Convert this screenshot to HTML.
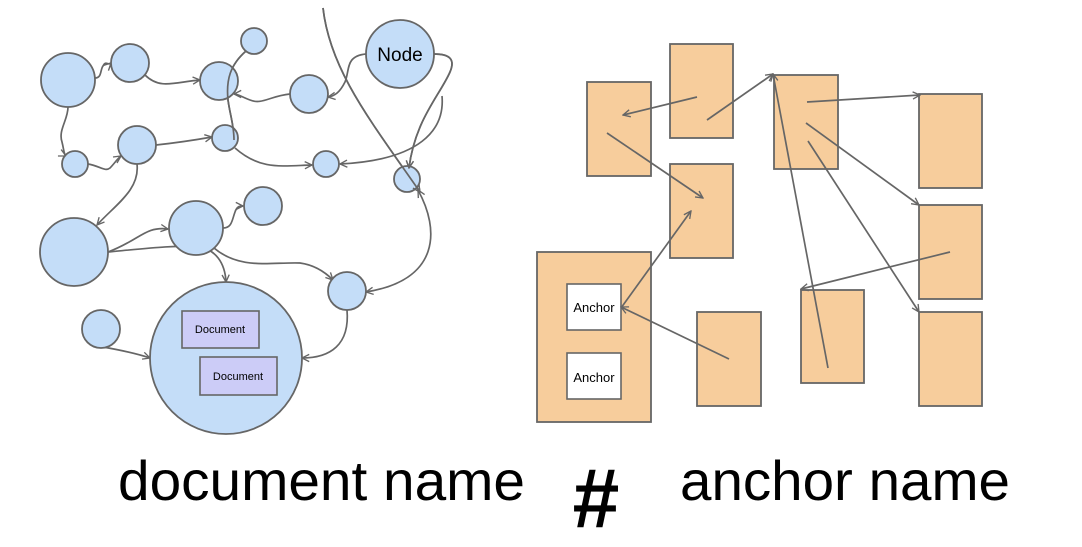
<!DOCTYPE html>
<html><head><meta charset="utf-8"><style>
html,body{margin:0;padding:0;background:#fff;width:1082px;height:547px;overflow:hidden}
svg{display:block}
</style></head><body>
<svg width="1082" height="547" viewBox="0 0 1082 547" xmlns="http://www.w3.org/2000/svg">
<defs>
<marker id="a" viewBox="0 0 10 10" refX="9" refY="5" markerWidth="9" markerHeight="9" orient="auto-start-reverse" markerUnits="userSpaceOnUse">
<path d="M1,1 L9,5 L1,9" fill="none" stroke="#666" stroke-width="1.5"/>
</marker>
</defs>
<g fill="none" stroke="#666" stroke-width="1.7">
<path d="M95,78 C102,78 100,70 103,66 C106,60 108,66 111,63" marker-end="url(#a)"/>
<path d="M145,75 C160,90 175,82 200,80" marker-end="url(#a)"/>
<path d="M246,51 C230,65 226,80 228,100 C230,115 234,125 234,140" marker-end="url(#a)"/>
<path d="M290,94 C270,96 262,105 250,100 C242,97 238,94 234,94" marker-end="url(#a)"/>
<path d="M366,54 C345,56 350,70 345,82 C340,92 335,96 328,97" marker-end="url(#a)"/>
<path d="M434,54 C448,54 456,58 450,72 C440,95 415,120 409,168" marker-end="url(#a)"/>
<path d="M442,96 C445,130 420,160 340,164" marker-end="url(#a)"/>
<path d="M323,8 C330,70 370,120 420,192" marker-end="url(#a)"/>
<path d="M68,107 C68,120 58,130 62,142 C64,150 64,155 66,156" marker-end="url(#a)"/>
<path d="M88,164 C100,166 105,172 110,168 C114,164 118,158 121,156" marker-end="url(#a)"/>
<path d="M156,145 C175,143 195,140 212,137" marker-end="url(#a)"/>
<path d="M235,148 C260,170 280,166 312,165" marker-end="url(#a)"/>
<path d="M137,164 C140,190 115,205 97,225" marker-end="url(#a)"/>
<path d="M108,252 C140,240 145,226 168,229" marker-end="url(#a)"/>
<path d="M108,252 C150,248 175,245 200,247 C215,250 225,262 226,282" marker-end="url(#a)"/>
<path d="M223,228 C232,228 232,220 235,212 C237,206 240,206 243,206" marker-end="url(#a)"/>
<path d="M214,248 C240,270 270,262 300,263 C315,265 325,272 333,280" marker-end="url(#a)"/>
<path d="M418,190 C440,230 440,280 366,292" marker-start="url(#a)" marker-end="url(#a)"/>
<path d="M347,310 C350,345 330,358 302,358" marker-end="url(#a)"/>
<path d="M103,347 C120,350 135,353 150,358" marker-end="url(#a)"/>
</g>
<g fill="#c4ddf8" stroke="#666" stroke-width="1.8">
<circle cx="68" cy="80" r="27"/>
<circle cx="130" cy="63" r="19"/>
<circle cx="219" cy="81" r="19"/>
<circle cx="254" cy="41" r="13"/>
<circle cx="400" cy="54" r="34"/>
<circle cx="309" cy="94" r="19"/>
<circle cx="75" cy="164" r="13"/>
<circle cx="137" cy="145" r="19"/>
<circle cx="225" cy="138" r="13"/>
<circle cx="326" cy="164" r="13"/>
<circle cx="407" cy="179" r="13"/>
<circle cx="74" cy="252" r="34"/>
<circle cx="196" cy="228" r="27"/>
<circle cx="263" cy="206" r="19"/>
<circle cx="347" cy="291" r="19"/>
<circle cx="101" cy="329" r="19"/>
<circle cx="226" cy="358" r="76"/>
</g>
<g fill="none" stroke="#666" stroke-width="1.7">
<path d="M246,51 C230,65 226,80 228,100 C230,115 234,125 234,140"/>
<path d="M323,8 C330,70 370,120 420,192" marker-end="url(#a)"/>
<path d="M434,54 C448,54 456,58 450,72 C440,95 415,120 409,168" marker-end="url(#a)"/>
</g>
<g stroke="#666" stroke-width="1.6" fill="#ccccf7">
<rect x="182" y="311" width="77" height="37"/>
<rect x="200" y="357" width="77" height="38"/>
</g>
<g font-family="Liberation Sans, sans-serif" fill="#000">
<text x="400" y="61" font-size="19" text-anchor="middle">Node</text>
<text x="220" y="333" font-size="11" text-anchor="middle">Document</text>
<text x="238" y="380" font-size="11" text-anchor="middle">Document</text>
</g>
<g fill="#f7cd9c" stroke="#666" stroke-width="1.8">
<rect x="587" y="82" width="64" height="94"/>
<rect x="670" y="44" width="63" height="94"/>
<rect x="670" y="164" width="63" height="94"/>
<rect x="537" y="252" width="114" height="170"/>
<rect x="697" y="312" width="64" height="94"/>
<rect x="774" y="75" width="64" height="94"/>
<rect x="801" y="290" width="63" height="93"/>
<rect x="919" y="94" width="63" height="94"/>
<rect x="919" y="205" width="63" height="94"/>
<rect x="919" y="312" width="63" height="94"/>
</g>
<g fill="#fff" stroke="#666" stroke-width="1.6">
<rect x="567" y="284" width="54" height="46"/>
<rect x="567" y="353" width="54" height="46"/>
</g>
<g font-family="Liberation Sans, sans-serif" font-size="13" fill="#000" text-anchor="middle">
<text x="594" y="312">Anchor</text>
<text x="594" y="382">Anchor</text>
</g>
<g fill="none" stroke="#666" stroke-width="1.7">
<path d="M697,97 L623,115" marker-end="url(#a)"/>
<path d="M707,120 L773,74" marker-end="url(#a)"/>
<path d="M607,133 L703,198" marker-end="url(#a)"/>
<path d="M621,308 L691,211" marker-end="url(#a)"/>
<path d="M729,359 L621,307" marker-end="url(#a)"/>
<path d="M807,102 L920,95" marker-end="url(#a)"/>
<path d="M806,123 L919,205" marker-end="url(#a)"/>
<path d="M808,141 L919,312" marker-end="url(#a)"/>
<path d="M950,252 L801,289" marker-end="url(#a)"/>
<path d="M828,368 L773,74" marker-end="url(#a)"/>
</g>
<g font-family="Liberation Sans, sans-serif" fill="#000">
<text x="118" y="500" font-size="56" textLength="407" lengthAdjust="spacingAndGlyphs">document name</text>
<text x="596" y="527" font-size="84" font-weight="bold" text-anchor="middle">#</text>
<text x="680" y="500" font-size="56" textLength="330" lengthAdjust="spacingAndGlyphs">anchor name</text>
</g>
</svg>
</body></html>
